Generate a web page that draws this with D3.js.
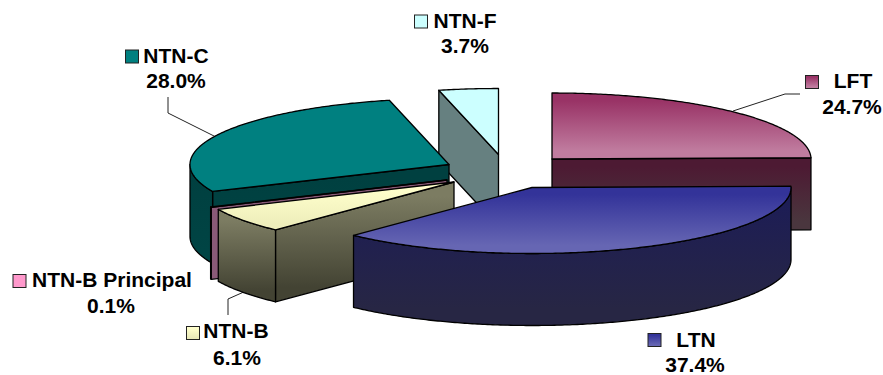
<!DOCTYPE html>
<html>
<head>
<meta charset="utf-8">
<script src="https://cdnjs.cloudflare.com/ajax/libs/d3/7.8.5/d3.min.js"></script>
<style>
html,body{margin:0;padding:0;background:#fff}
svg{display:block}
text{font-family:"Liberation Sans",Arial,sans-serif;font-weight:700;font-size:21px;fill:#000;text-anchor:middle}
</style>
</head>
<body>
<svg id="chart" width="883" height="375"></svg>
<script>
// Composition of the debt portfolio, in percent
const categories = ["LFT", "LTN", "NTN-B", "NTN-B Principal", "NTN-C", "NTN-F"];
const shares = [24.7, 37.4, 6.1, 0.1, 28.0, 3.7];

// Apex of each exploded slice on the page
const apexX = [552, 532, 454, 447, 449, 498.5];
const apexY = [159, 187.5, 182, 180, 164.5, 154.5];

// Per-slice paint: top gradient (from, to), wall gradient (from, to)
const topFrom = ["#993366", "#333399", "#ffffcc", "#a06a88", "#008080", "#ccffff"];
const topTo = ["#c07c9f", "#6666b3", "#eeeebb", "#a06a88", "#008080", "#ccffff"];
const wallFrom = ["#4d1a33", "#1d1d55", "#7c7c62", "#8a5a78", "#004040", "#668080"];
const wallTo = ["#4a363e", "#272644", "#434333", "#8a5a78", "#004444", "#668080"];
const swatchFrom = ["#993366", "#333399", "#ffffcc", "#ff99cc", "#008080", "#ccffff"];
const swatchTo = ["#c07c9f", "#6666b3", "#e8e8b8", "#ff99cc", "#008080", "#ccffff"];

// Back-to-front paint sequence
const paintOrder = [0, 5, 4, 3, 2, 1];

// Legend-style label placement: name centre, name baseline, value centre, value baseline
const nameX = [853, 696, 236, 112, 176, 465];
const nameY = [88, 347, 338, 287, 63, 28];
const valueX = [852, 695, 237, 111, 176, 465];
const valueY = [114, 372, 365, 313, 88, 53];
const swatchX = [805.5, 648, 186.5, 13, 125.5, 414.5];
const swatchY = [75.5, 333.5, 326.5, 274.5, 50, 15];

const rx = 259, ry = 66, depth = 72;

const svg = d3.select("#chart");
const defs = svg.append("defs");

function gradient(id, from, to) {
  const g = defs.append("linearGradient").attr("id", id)
    .attr("x1", 0).attr("y1", 0).attr("x2", 0).attr("y2", 1);
  g.append("stop").attr("offset", "12%").attr("stop-color", from);
  g.append("stop").attr("offset", "88%").attr("stop-color", to);
  return `url(#${id})`;
}

const slices = d3.pie().sort(null).value(d => d)
  .startAngle(0).endAngle(2 * Math.PI)(shares);

const line = d3.line();
const closed = pts => line(pts) + "Z";

// Projects a pie angle onto the tilted ellipse of slice i
const proj = (i, a, drop = 0) => [
  apexX[i] + rx * Math.sin(a),
  apexY[i] - ry * Math.cos(a) + drop
];
const arcPoints = (i, a0, a1, drop = 0) => {
  const n = Math.max(2, Math.ceil(Math.abs(a1 - a0) / 0.01));
  return d3.range(n + 1).map(k => proj(i, a0 + (a1 - a0) * k / n, drop));
};

const pieLayer = svg.append("g").attr("stroke", "#000").attr("stroke-width", 1.3).attr("stroke-linejoin", "round");

// Leader lines sit under the slices
const leaders = [
  [[733, 111], [785, 94], [800, 94]],
  [[168, 97], [168, 113], [216, 137]],
  [[228, 315], [228, 299], [246, 291]]
];
svg.insert("g", "g").attr("fill", "none").attr("stroke", "#222").attr("stroke-width", 1)
  .selectAll("path").data(leaders).join("path").attr("d", d => line(d));

paintOrder.forEach(i => {
  const s = slices[i];
  const a0 = s.startAngle, a1 = s.endAngle;
  const apex = [apexX[i], apexY[i]];
  const apexLow = [apexX[i], apexY[i] + depth];
  const wallFill = gradient(`wall${i}`, wallFrom[i], wallTo[i]);
  const g = pieLayer.append("g");

  // Radial walls facing the viewer
  if (Math.sin(a1) > 0.001) {
    g.append("path").attr("fill", wallFill)
      .attr("d", closed([apex, proj(i, a1), proj(i, a1, depth), apexLow]));
  }
  if (Math.sin(a0) < -0.001) {
    g.append("path").attr("fill", wallFill)
      .attr("d", closed([apex, proj(i, a0), proj(i, a0, depth), apexLow]));
  }

  // Curved rim, only on the near half of the ellipse
  const lo = Math.max(a0, Math.PI / 2), hi = Math.min(a1, 3 * Math.PI / 2);
  if (hi > lo) {
    g.append("path").attr("fill", wallFill)
      .attr("d", closed(arcPoints(i, lo, hi).concat(arcPoints(i, hi, lo, depth))));
  }

  // Top face
  g.append("path").attr("fill", gradient(`top${i}`, topFrom[i], topTo[i]))
    .attr("d", closed([apex].concat(arcPoints(i, a0, a1))));
});

// Labels: swatch plus name, percentage underneath
const labels = svg.append("g");
categories.forEach((name, i) => {
  labels.append("rect")
    .attr("x", swatchX[i]).attr("y", swatchY[i]).attr("width", 13).attr("height", 13)
    .attr("fill", gradient(`sw${i}`, swatchFrom[i], swatchTo[i]))
    .attr("stroke", "#222").attr("stroke-width", 1);
  labels.append("text").attr("x", nameX[i]).attr("y", nameY[i]).text(name);
  labels.append("text").attr("x", valueX[i]).attr("y", valueY[i]).text(d3.format(".1f")(shares[i]) + "%");
});
</script>
</body>
</html>
